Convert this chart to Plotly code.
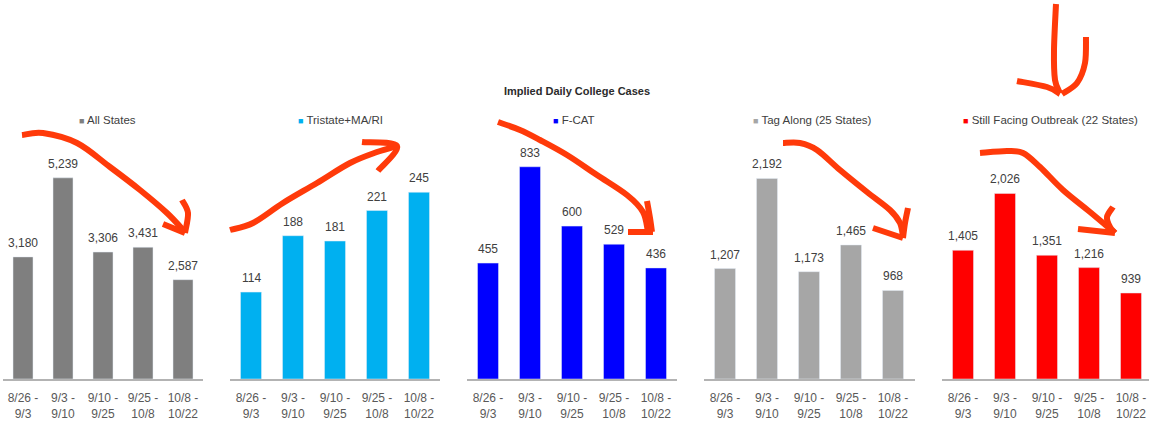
import plotly.graph_objects as go

W, H = 1149, 423

periods = ["8/26 -<br>9/3", "9/3 -<br>9/10", "9/10 -<br>9/25", "9/25 -<br>10/8", "10/8 -<br>10/22"]

all_states = [3180, 5239, 3306, 3431, 2587]
tristate = [114, 188, 181, 221, 245]
fcat = [455, 833, 600, 529, 436]
tag_along = [1207, 2192, 1173, 1465, 968]
still_facing = [1405, 2026, 1351, 1216, 939]

series_names = ["All States", "Tristate+MA/RI", "F-CAT", "Tag Along (25 States)",
                "Still Facing Outbreak (22 States)"]
series_values = [all_states, tristate, fcat, tag_along, still_facing]
series_colors = ["#7f7f7f", "#00b0f0", "#0000ff", "#a6a6a6", "#ff0000"]

title_text = "Implied Daily College Cases"

FONT = "Liberation Sans Narrow, Arial Narrow, Liberation Sans, Arial, sans-serif"

# layout (pixels)
x_doms_px = [(3, 203), (230, 440), (467, 677), (704, 915), (942, 1149)]
cat_px = [40, 42, 42, 42, 42]
y_bottom_px, y_top_px = 379, 100
y_max = [7266, 366, 1095, 3049, 3046]
legend_x_px = [107, 340, 574, 812, 1050]
legend_y_px = 120


def px(x):
    return x / W


def py(y):
    return 1 - y / H


fig = go.Figure()
annotations = []
layout_axes = {}
for i, (name, vals, col) in enumerate(zip(series_names, series_values, series_colors)):
    k = "" if i == 0 else str(i + 1)
    fig.add_trace(go.Bar(x=periods, y=vals, name=name, marker_color=col, width=0.5,
                         xaxis="x" + k, yaxis="y" + k, showlegend=False,
                         hoverinfo="x+y"))
    x0, x1 = x_doms_px[i]
    ncat = (x1 - x0) / cat_px[i]
    layout_axes["xaxis" + k] = dict(
        domain=[px(x0), px(x1)], anchor="y" + k, range=[-0.5, -0.5 + ncat],
        showline=True, linecolor="#b3b3b3", linewidth=1.5, showgrid=False,
        zeroline=False, ticks="outside", ticklen=7, tickcolor="rgba(0,0,0,0)",
        tickfont=dict(family=FONT, size=12, color="#595959"), fixedrange=True)
    layout_axes["yaxis" + k] = dict(
        domain=[py(y_bottom_px), py(y_top_px)], anchor="x" + k, range=[0, y_max[i]],
        visible=False, showgrid=False, zeroline=False, fixedrange=True)
    for c, v in zip(periods, vals):
        annotations.append(dict(x=c, y=v, xref="x" + k, yref="y" + k, text=f"{v:,}",
                                showarrow=False, yanchor="bottom", yshift=5,
                                font=dict(family=FONT, size=12, color="#404040")))
    annotations.append(dict(
        x=px(legend_x_px[i]), y=py(legend_y_px), xref="paper", yref="paper",
        xanchor="center", yanchor="middle", showarrow=False,
        text=f"<span style='color:{col};font-size:9px'>■</span> {name}",
        font=dict(family=FONT, size=11.5, color="#404040")))


def smooth_path(points):
    p = [(px(x), py(y)) for x, y in points]
    d = f"M {p[0][0]:.5f},{p[0][1]:.5f}"
    n = len(p)
    for j in range(n - 1):
        p0 = p[j - 1] if j > 0 else p[j]
        p1 = p[j]
        p2 = p[j + 1]
        p3 = p[j + 2] if j + 2 < n else p[j + 1]
        c1 = (p1[0] + (p2[0] - p0[0]) / 6, p1[1] + (p2[1] - p0[1]) / 6)
        c2 = (p2[0] - (p3[0] - p1[0]) / 6, p2[1] - (p3[1] - p1[1]) / 6)
        d += f" C {c1[0]:.5f},{c1[1]:.5f} {c2[0]:.5f},{c2[1]:.5f} {p2[0]:.5f},{p2[1]:.5f}"
    return d


arrow_strokes = [
    # panel 1
    [(22, 135), (43, 133), (77, 143), (110, 167), (140, 190), (167, 213), (185, 232)],
    [(182, 200), (188, 213), (185, 233)],
    [(163, 224), (185, 233)],
    # panel 2
    [(230, 230), (253, 223), (283, 203), (317, 183), (350, 163), (377, 152), (397, 146)],
    [(362, 142), (397, 146), (378, 171)],
    # panel 3
    [(498, 122), (520, 130), (540, 140), (567, 155), (597, 175), (627, 195), (643, 212), (648, 232)],
    [(647, 201), (650, 218), (652, 232)],
    [(628, 232), (653, 232)],
    # panel 4
    [(783, 143), (800, 143), (817, 150), (840, 170), (867, 192), (890, 210), (900, 223), (903, 237)],
    [(908, 208), (905, 223), (903, 238)],
    [(873, 228), (903, 238)],
    # panel 5
    [(980, 153), (1007, 151), (1023, 153), (1040, 167), (1063, 190), (1090, 212), (1115, 233)],
    [(1113, 207), (1107, 217), (1110, 227), (1115, 233)],
    [(1078, 229), (1115, 233)],
    # top arrow
    [(1056, 4), (1054, 50), (1055, 80), (1060, 93)],
    [(1086, 37), (1085, 63), (1077, 83), (1062, 94)],
    [(1017, 81), (1047, 87), (1060, 94)],
]

shapes = [dict(type="path", xref="paper", yref="paper", path=smooth_path(s),
               line=dict(color="#ff3a0a", width=6), layer="above")
          for s in arrow_strokes]

fig.update_layout(
    width=W, height=H, margin=dict(l=0, r=0, t=0, b=0),
    paper_bgcolor="white", plot_bgcolor="white",
    bargap=0.5,
    title=dict(text="<b>" + title_text + "</b>", x=px(577), y=py(91),
               xanchor="center", yanchor="middle", xref="paper", yref="paper",
               font=dict(family=FONT, size=11, color="#2b2b2b")),
    annotations=annotations, shapes=shapes, showlegend=False,
    **layout_axes)

fig.write_html("out.html", config={"displayModeBar": False},
               post_script="document.body.style.margin='0';"
                           "document.body.style.overflow='hidden';")
